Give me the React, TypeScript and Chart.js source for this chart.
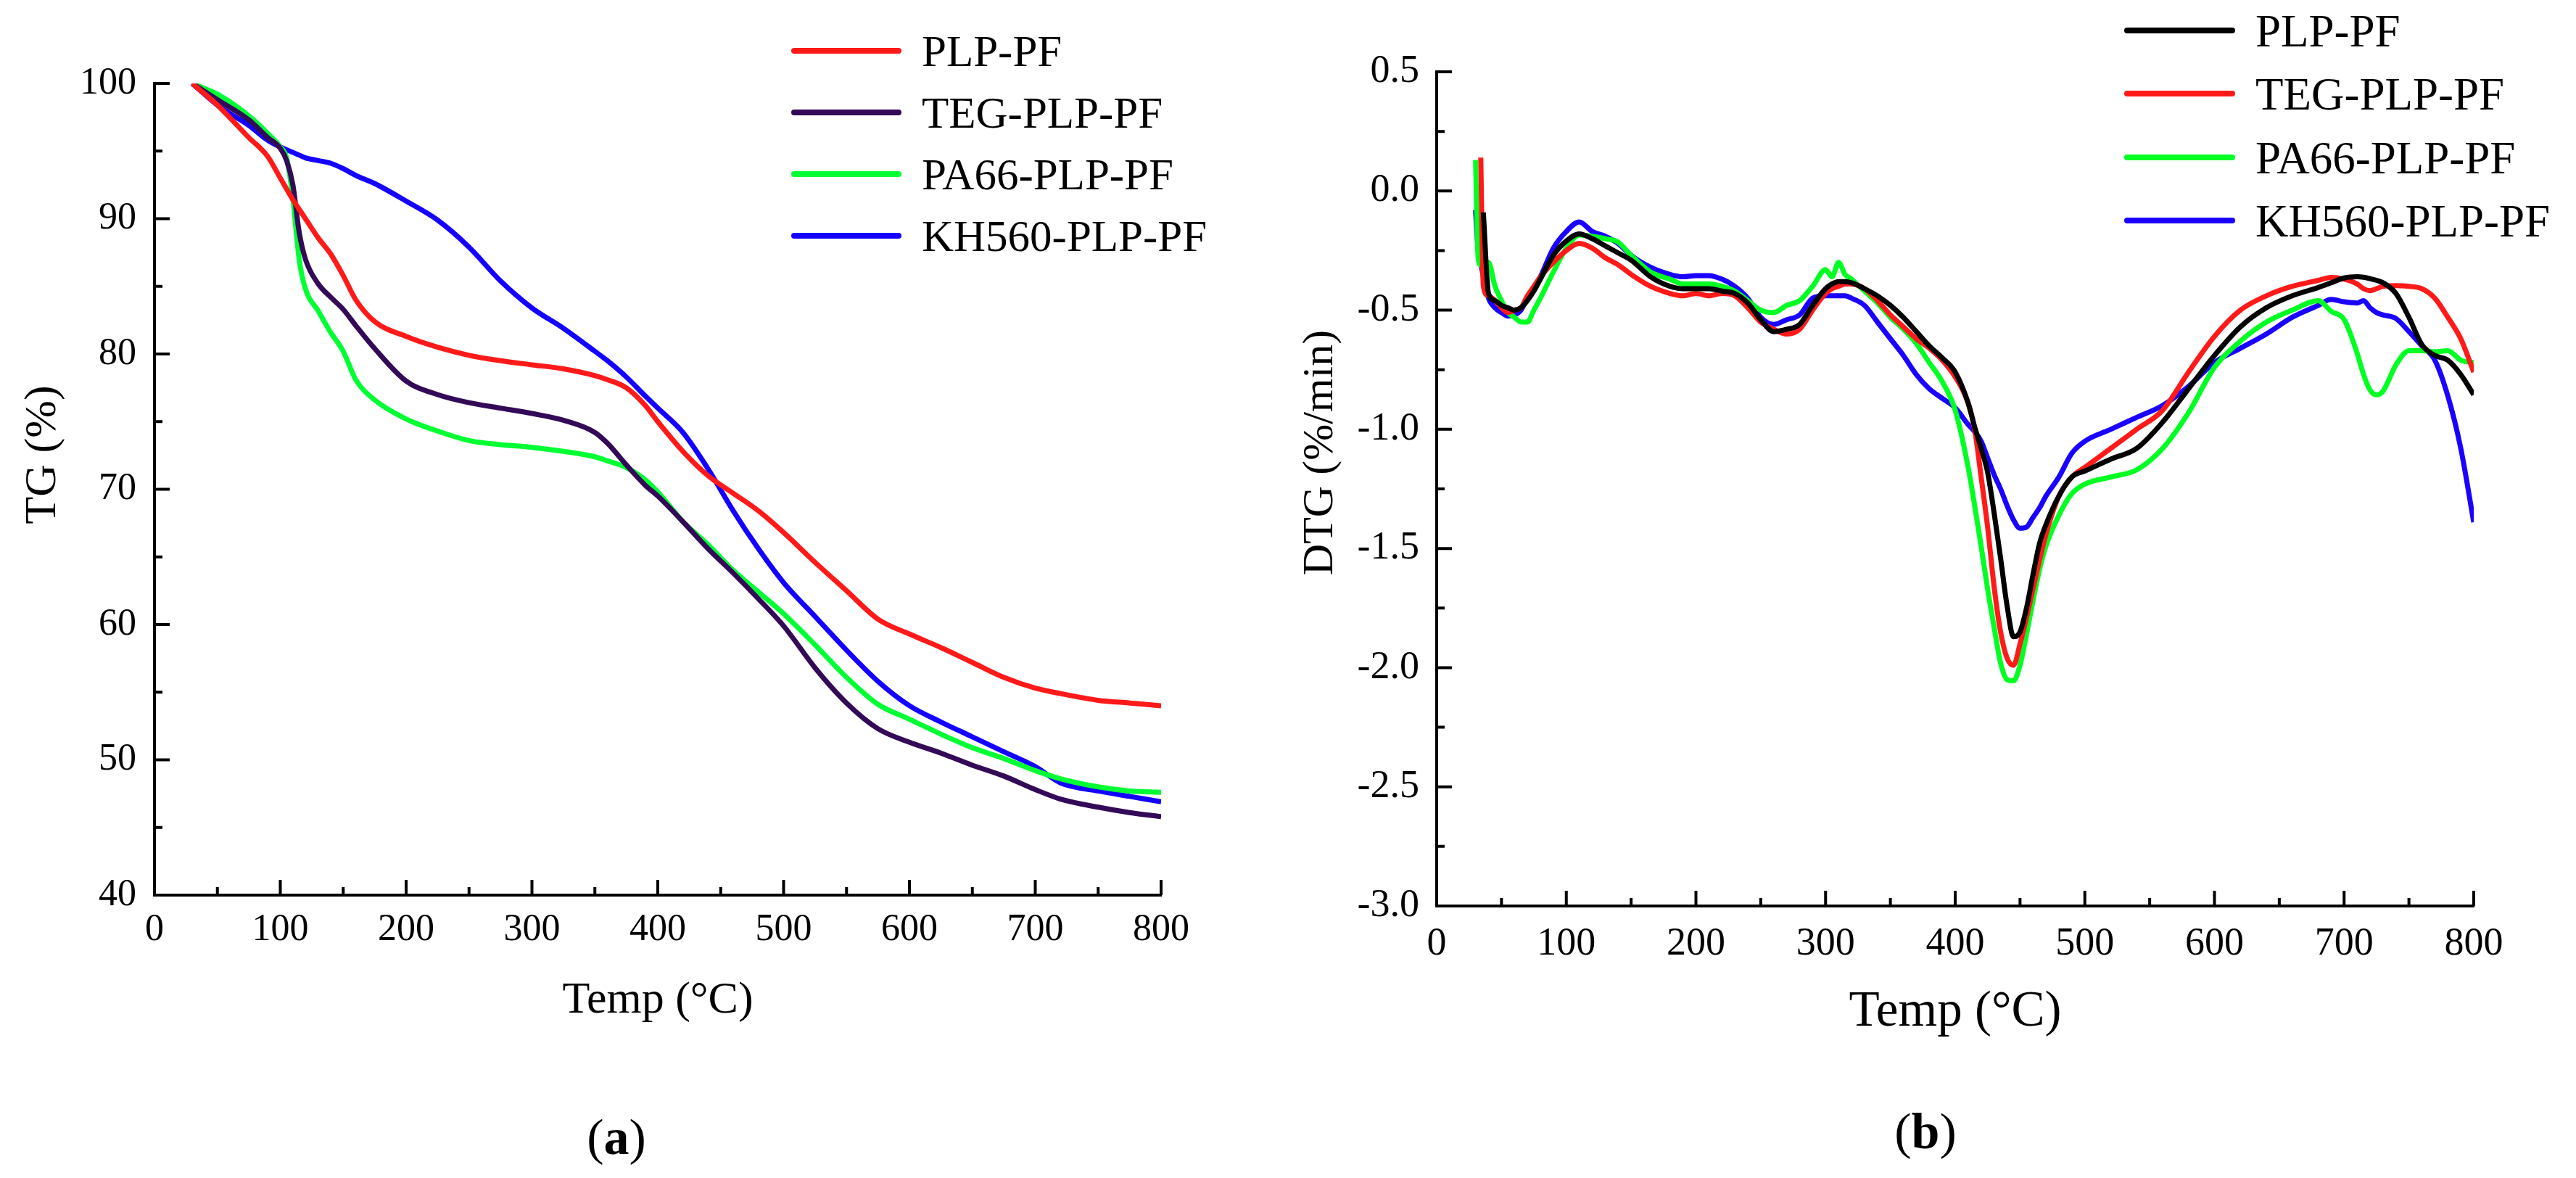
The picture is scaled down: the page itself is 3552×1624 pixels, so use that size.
import { useEffect, useRef } from "react"
import { Chart, registerables } from "chart.js"

Chart.register(...registerables)

const SERIF = "'Liberation Serif', 'Times New Roman', Times, serif"

// ---- panel (a): TG curves ----
const tgTemps = [
  30, 50, 75, 90, 100, 105, 110, 115, 120, 130, 140, 150, 160, 175, 200, 225, 250, 275, 300, 325, 350,
  360, 375, 390, 400, 420, 440, 460, 480, 500, 525, 550, 575, 600, 625, 650, 675, 700, 720, 750, 775, 800,
]
const tgPLP = [
  100, 98.4, 96, 94.6, 93, 92.2, 91.4, 90.7, 90, 88.6, 87.4, 85.8, 84, 82.4, 81.3, 80.5, 79.9, 79.5, 79.2, 78.9, 78.4,
  78.1, 77.5, 76.2, 75, 72.8, 71, 69.7, 68.4, 66.8, 64.6, 62.5, 60.4, 59.3, 58.3, 57.2, 56.1, 55.3, 54.9, 54.4, 54.2, 54,
]
const tgTEG = [
  100, 98.8, 97.3, 96, 95.2, 94.3, 92.5, 89, 87, 85.2, 84.2, 83.3, 82.1, 80.4, 78, 77, 76.4, 76, 75.6, 75.1, 74.2,
  73.4, 71.8, 70.3, 69.5, 67.6, 65.6, 63.8, 61.9, 59.9, 56.8, 54.2, 52.3, 51.3, 50.5, 49.6, 48.8, 47.8, 47.1, 46.5, 46.1, 45.8,
]
const tgPA66 = [
  100, 99.2, 97.6, 96.3, 95.3, 94.5, 91.5, 87, 84.8, 83.2, 81.6, 80.2, 78.1, 76.6, 75.2, 74.3, 73.6, 73.3, 73.1, 72.8, 72.4,
  72.1, 71.6, 70.7, 69.8, 67.6, 65.9, 64, 62.4, 60.8, 58.5, 56.1, 54.1, 53, 51.9, 50.9, 50.1, 49.2, 48.6, 48, 47.7, 47.6,
]
const tgKH560 = [
  100, 98.4, 96.9, 95.8, 95.3, 95.1, 94.9, 94.7, 94.5, 94.3, 94.1, 93.7, 93.2, 92.6, 91.3, 89.9, 87.9, 85.4, 83.4, 81.9, 80.2,
  79.5, 78.3, 76.9, 76, 74.2, 71.5, 68.4, 65.6, 63.1, 60.6, 58.1, 55.8, 54, 52.8, 51.7, 50.6, 49.5, 48.3, 47.7, 47.3, 46.9,
]

// ---- panel (b): DTG curves ----
const dtgTemps = [
  30, 32, 34, 36, 40, 45, 50, 55, 60, 65,
  70, 75, 80, 90, 100, 110, 120, 130, 140, 150,
  165, 180, 190, 200, 210, 220, 230, 240, 250, 260,
  270, 280, 290, 300, 305, 310, 315, 320, 330, 340,
  350, 360, 370, 380, 390, 400, 410, 415, 420, 425,
  430, 435, 440, 445, 450, 455, 460, 465, 470, 480,
  490, 500, 520, 540, 560, 580, 600, 620, 640, 660,
  680, 690, 700, 710, 715, 720, 725, 730, 740, 750,
  760, 770, 780, 790, 800,
]
const dtgPLP = [
  null, null, null, -0.09, -0.43, -0.46, -0.48, -0.49, -0.5, -0.49,
  -0.46, -0.42, -0.37, -0.27, -0.21, -0.18, -0.2, -0.23, -0.26, -0.29,
  -0.36, -0.4, -0.41, -0.41, -0.41, -0.42, -0.43, -0.47, -0.54, -0.59,
  -0.58, -0.56, -0.48, -0.41, -0.39, -0.38, -0.38, -0.385, -0.41, -0.44,
  -0.48, -0.53, -0.59, -0.65, -0.7, -0.76, -0.89, -0.99, -1.08, -1.18,
  -1.35, -1.54, -1.74, -1.87, -1.85, -1.75, -1.61, -1.48, -1.4, -1.28,
  -1.2, -1.175, -1.125, -1.08, -0.97, -0.83, -0.69, -0.57, -0.49, -0.44,
  -0.405, -0.385, -0.365, -0.36, -0.362, -0.368, -0.375, -0.385, -0.43, -0.53,
  -0.645, -0.69, -0.71, -0.77, -0.855,
]
const dtgTEG = [
  null, null, 0.14, -0.4, -0.44, -0.46, -0.49, -0.51, -0.5, -0.49,
  -0.44, -0.4, -0.36, -0.3, -0.25, -0.22, -0.24, -0.28, -0.31, -0.35,
  -0.4, -0.43, -0.44, -0.43, -0.44, -0.43, -0.44, -0.49, -0.55, -0.58,
  -0.6, -0.58, -0.5, -0.43, -0.41, -0.4, -0.39, -0.39, -0.41, -0.46,
  -0.52, -0.57, -0.62, -0.66, -0.71, -0.78, -0.89, -1.0, -1.2, -1.41,
  -1.66, -1.85, -1.96, -1.99, -1.9, -1.79, -1.67, -1.55, -1.44, -1.28,
  -1.2, -1.16, -1.08, -1.0, -0.92, -0.76, -0.61, -0.5, -0.44, -0.4,
  -0.375, -0.363, -0.37, -0.39, -0.41, -0.418, -0.41, -0.4, -0.397, -0.4,
  -0.41, -0.45, -0.53, -0.62, -0.76,
]
const dtgPA66 = [
  0.13, -0.28, -0.31, -0.3, -0.3, -0.4, -0.46, -0.51, -0.53, -0.55,
  -0.55, -0.5, -0.45, -0.34, -0.24, -0.185, -0.19, -0.2, -0.215, -0.27,
  -0.34, -0.37, -0.39, -0.39, -0.39, -0.4, -0.42, -0.46, -0.5, -0.51,
  -0.48, -0.46, -0.4, -0.33, -0.36, -0.3, -0.35, -0.37, -0.42, -0.47,
  -0.53, -0.58, -0.64, -0.72, -0.8, -0.92, -1.16, -1.32, -1.49, -1.67,
  -1.83, -1.98, -2.05, -2.055, -1.99, -1.86, -1.72, -1.59, -1.49, -1.36,
  -1.27, -1.23, -1.2, -1.17, -1.08, -0.93, -0.74, -0.63, -0.55, -0.5,
  -0.46, -0.505, -0.54, -0.68, -0.77, -0.835, -0.855, -0.84, -0.73, -0.67,
  -0.67, -0.675, -0.67, -0.71, -0.72,
]
const dtgKH560 = [
  -0.08, -0.25, -0.3, -0.36, -0.45, -0.49, -0.51, -0.525, -0.52, -0.5,
  -0.45, -0.41, -0.36, -0.24, -0.17, -0.13, -0.17, -0.19, -0.22, -0.27,
  -0.32, -0.35, -0.36, -0.355, -0.355, -0.37, -0.4, -0.45, -0.53, -0.56,
  -0.54, -0.52, -0.45, -0.44, -0.44, -0.44, -0.44, -0.45, -0.48, -0.55,
  -0.62, -0.69, -0.77, -0.83, -0.87, -0.91, -0.98, -1.01, -1.05, -1.12,
  -1.19, -1.25, -1.32, -1.38, -1.415, -1.41, -1.37, -1.33, -1.28, -1.2,
  -1.1, -1.05, -1.0, -0.95, -0.9, -0.82, -0.72, -0.66, -0.6, -0.53,
  -0.48, -0.455, -0.465, -0.47, -0.46, -0.49, -0.51, -0.52, -0.535, -0.59,
  -0.65, -0.71, -0.86, -1.08, -1.39,
]

const seriesNames = ["PLP-PF", "TEG-PLP-PF", "PA66-PLP-PF", "KH560-PLP-PF"]
const tgColors = ["#ff1a1a", "#330a57", "#00ff33", "#1400ff"]
const dtgColors = ["#000000", "#ff1a1a", "#00ff22", "#1a00ff"]

const W = 1776
const H = 1624

interface PanelProps {
  left: number
  temps: number[]
  series: (number | null)[][]
  colors: string[]
  yMin: number
  yMax: number
  yStep: number
  yDecimals: number
  xTitle: string
  xTitleSize: number
  xTitlePad: number
  yTitle: string
  yTitleSize: number
  yTitleX: number
  yTitleY: number
  tickSize: number
  xTickPad: number
  yTickPad: number
  area: { left: number; right: number; top: number; bottom: number }
  legend: { x1: number; x2: number; textX: number; rows: number[]; size: number }
}

function Panel(p: PanelProps) {
  const canvasRef = useRef<HTMLCanvasElement>(null)
  const chartRef = useRef<Chart | null>(null)

  useEffect(() => {
    if (!canvasRef.current) return
    if (chartRef.current) chartRef.current.destroy()

    // inward ticks, legend and the rotated y title
    const decorations = {
      id: "decorations",
      afterDraw(chart: Chart) {
        const { ctx, chartArea } = chart
        const xs = chart.scales.x
        const ys = chart.scales.y
        ctx.save()
        ctx.strokeStyle = "#000"
        ctx.lineWidth = 4
        ctx.beginPath()
        for (let i = 0; i <= 16; i++) {
          const px = xs.getPixelForValue(i * 50)
          const len = i % 2 === 0 ? 21 : 11
          ctx.moveTo(px, chartArea.bottom)
          ctx.lineTo(px, chartArea.bottom - len)
        }
        const nY = Math.round(((p.yMax - p.yMin) / p.yStep) * 2)
        for (let i = 0; i <= nY; i++) {
          const py = ys.getPixelForValue(p.yMin + (i * p.yStep) / 2)
          const len = i % 2 === 0 ? 21 : 11
          ctx.moveTo(chartArea.left, py)
          ctx.lineTo(chartArea.left + len, py)
        }
        ctx.stroke()

        // legend
        ctx.lineCap = "round"
        ctx.font = `${p.legend.size}px ${SERIF}`
        ctx.textBaseline = "middle"
        ctx.textAlign = "left"
        chart.data.datasets.forEach((ds, i) => {
          const y = p.legend.rows[i]
          ctx.strokeStyle = ds.borderColor as string
          ctx.lineWidth = 8
          ctx.beginPath()
          ctx.moveTo(p.legend.x1, y)
          ctx.lineTo(p.legend.x2, y)
          ctx.stroke()
          ctx.fillStyle = "#000"
          ctx.fillText(ds.label as string, p.legend.textX, y + 5)
        })

        // y title
        ctx.translate(p.yTitleX, p.yTitleY)
        ctx.rotate(-Math.PI / 2)
        ctx.textAlign = "center"
        ctx.font = `${p.yTitleSize}px ${SERIF}`
        ctx.fillText(p.yTitle, 0, 0)
        ctx.restore()
      },
    }

    chartRef.current = new Chart(canvasRef.current, {
      type: "line",
      data: {
        datasets: p.series.map((vals, i) => ({
          label: seriesNames[i],
          data: p.temps
            .map((t, j) => ({ x: t, y: vals[j] }))
            .filter((pt) => pt.y !== null) as { x: number; y: number }[],
          borderColor: p.colors[i],
          backgroundColor: p.colors[i],
          borderWidth: 7,
          pointRadius: 0,
          cubicInterpolationMode: "monotone" as const,
          fill: false,
        })),
      },
      options: {
        responsive: false,
        devicePixelRatio: 1,
        animation: false,
        layout: {
          padding: {
            left: 0,
            top: p.area.top,
            right: W - p.area.right,
            bottom: H - p.area.bottom - 200,
          },
        },
        plugins: {
          legend: { display: false },
          tooltip: { enabled: false },
        },
        scales: {
          x: {
            type: "linear",
            min: 0,
            max: 800,
            afterFit: (s) => {
              s.height = 200
            },
            grid: { display: false, drawTicks: false },
            border: { display: true, color: "#000", width: 4 },
            ticks: {
              stepSize: 100,
              autoSkip: false,
              maxRotation: 0,
              padding: p.xTickPad,
              color: "#000",
              font: { family: SERIF, size: p.tickSize },
            },
            title: {
              display: true,
              text: p.xTitle,
              color: "#000",
              font: { family: SERIF, size: p.xTitleSize },
              padding: { top: 0, bottom: p.xTitlePad },
            },
          },
          y: {
            type: "linear",
            min: p.yMin,
            max: p.yMax,
            afterFit: (s) => {
              s.width = p.area.left
            },
            grid: { display: false, drawTicks: false },
            border: { display: true, color: "#000", width: 4 },
            ticks: {
              stepSize: p.yStep,
              autoSkip: false,
              padding: p.yTickPad,
              color: "#000",
              font: { family: SERIF, size: p.tickSize },
              callback: (v) => Number(v).toFixed(p.yDecimals),
            },
          },
        },
      },
      plugins: [decorations],
    })

    return () => {
      if (chartRef.current) {
        chartRef.current.destroy()
        chartRef.current = null
      }
    }
  }, [])

  return (
    <canvas
      ref={canvasRef}
      width={W}
      height={H}
      style={{ position: "absolute", left: p.left, top: 0, width: W, height: H }}
    />
  )
}

const captionStyle = {
  position: "absolute" as const,
  transform: "translate(-50%, -50%)",
  fontSize: 70,
  lineHeight: 1,
  fontFamily: SERIF,
  color: "#000",
  whiteSpace: "nowrap" as const,
}

export default function App() {
  return (
    <div style={{ position: "absolute", left: 0, top: 0, width: 3552, height: 1624, background: "#fff" }}>
      <Panel
        left={0}
        temps={tgTemps}
        series={[tgPLP, tgTEG, tgPA66, tgKH560]}
        colors={tgColors}
        yMin={40}
        yMax={100}
        yStep={10}
        yDecimals={0}
        xTitle="Temp (°C)"
        xTitleSize={62}
        xTitlePad={17}
        yTitle="TG (%)"
        yTitleSize={62}
        yTitleX={60}
        yTitleY={627}
        tickSize={52}
        xTickPad={17}
        yTickPad={25}
        area={{ left: 213, right: 1601, top: 115, bottom: 1234 }}
        legend={{ x1: 1095, x2: 1239, textX: 1271, rows: [70, 155, 240, 325], size: 61 }}
      />
      <Panel
        left={1776}
        temps={dtgTemps}
        series={[dtgPLP, dtgTEG, dtgPA66, dtgKH560]}
        colors={dtgColors}
        yMin={-3}
        yMax={0.5}
        yStep={0.5}
        yDecimals={1}
        xTitle="Temp (°C)"
        xTitleSize={69}
        xTitlePad={12}
        yTitle="DTG (%/min)"
        yTitleSize={60}
        yTitleX={45}
        yTitleY={624}
        tickSize={54}
        xTickPad={20}
        yTickPad={24}
        area={{ left: 205, right: 1635, top: 99, bottom: 1249 }}
        legend={{ x1: 1157, x2: 1302, textX: 1334, rows: [42, 129, 217, 304], size: 63 }}
      />
      <div style={{ ...captionStyle, left: 850, top: 1568 }}>
        (<b>a</b>)
      </div>
      <div style={{ ...captionStyle, left: 2655, top: 1560 }}>
        (<b>b</b>)
      </div>
    </div>
  )
}
